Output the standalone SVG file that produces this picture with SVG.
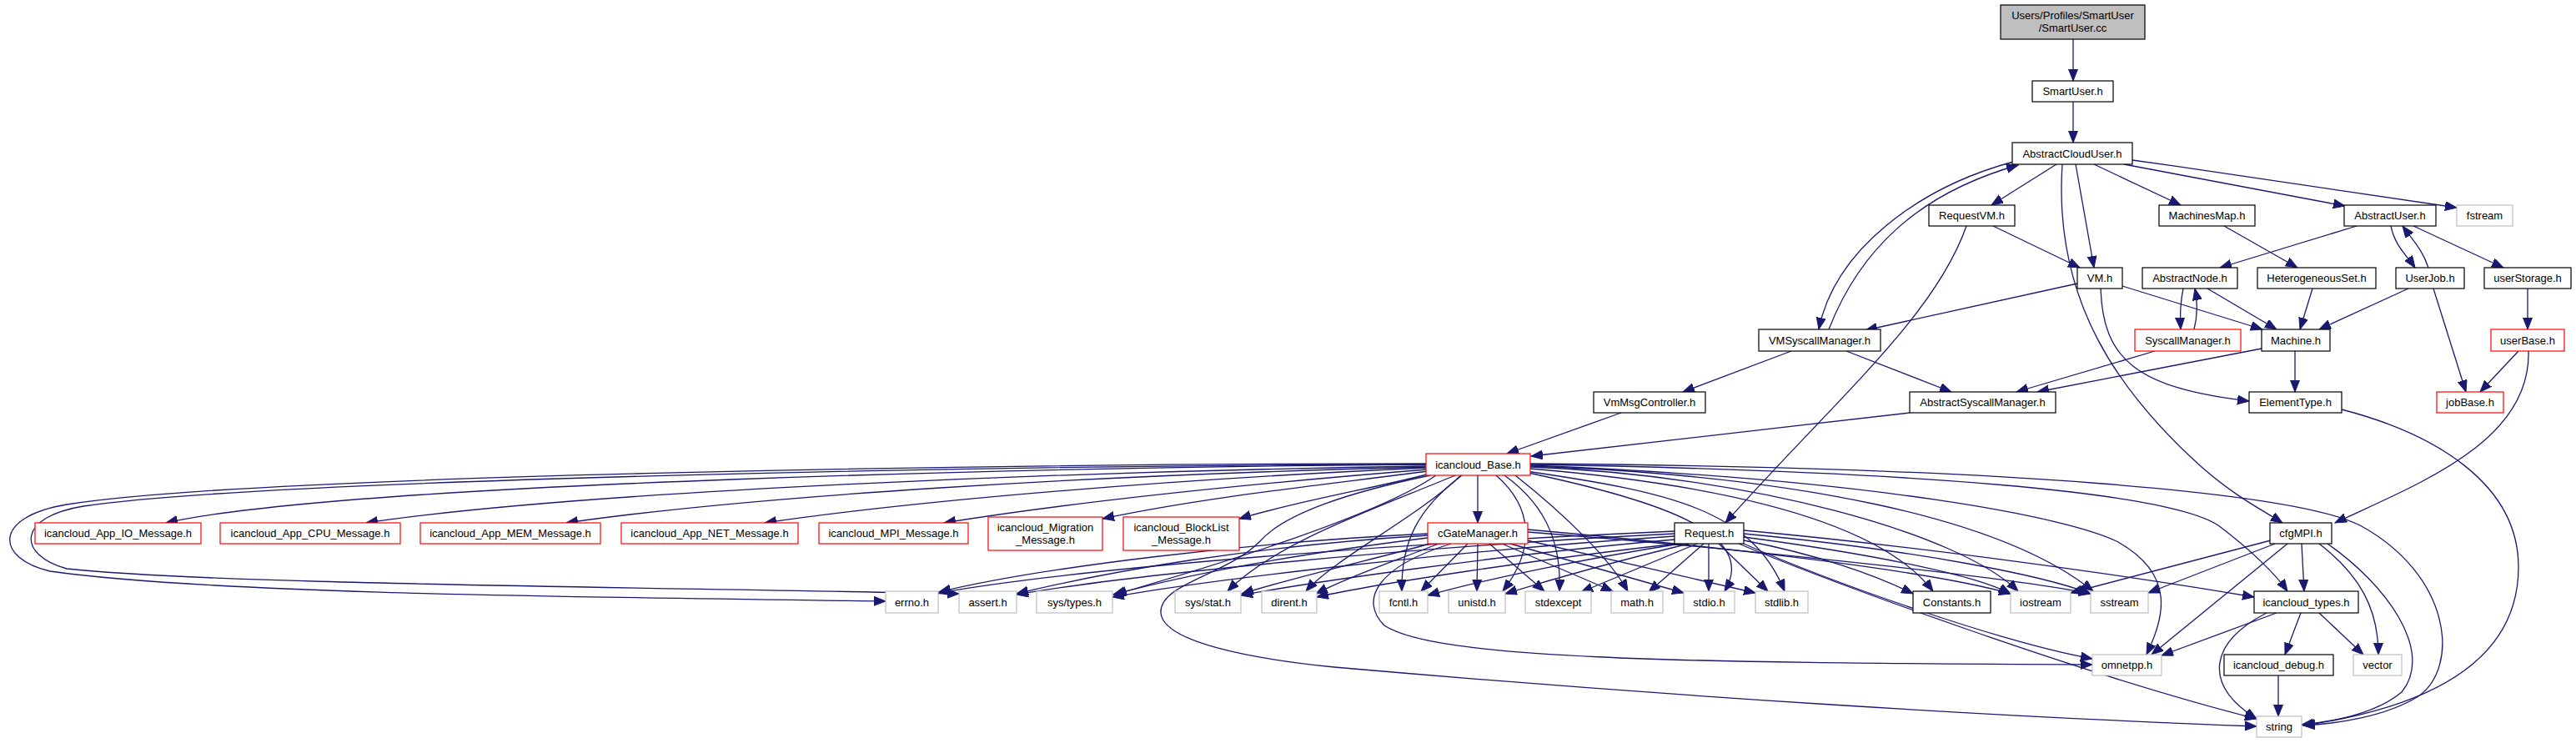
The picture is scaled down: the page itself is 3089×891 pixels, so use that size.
<svg xmlns="http://www.w3.org/2000/svg" width="3089" height="891" viewBox="0 0 3089 891">
<style>
rect{fill:#fff;stroke:#000;stroke-width:1.2}
.r rect{stroke:#ff0000}
.g rect{stroke:#bfbfbf}
.c rect{fill:#bfbfbf}
text{font-family:"Liberation Sans",Arial,sans-serif;font-size:13px;fill:#000;text-anchor:middle}
#edges path{fill:none;stroke:#191970;stroke-width:1.3;marker-end:url(#a)}
</style>
<defs>
<marker id="a" markerUnits="userSpaceOnUse" markerWidth="16" markerHeight="12" refX="14" refY="5.5" orient="auto">
<path d="M0,0 L14,5.5 L0,11 z" fill="#191970" stroke="#191970" stroke-width="1"/>
</marker>
</defs>
<rect x="0" y="0" width="3089" height="891" style="fill:#fff;stroke:none"/>
<g id="edges">
<path d="M2486,47 L2486,97"/>
<path d="M2486,122 L2486,171"/>
<path d="M2466,197 L2388,246"/>
<path d="M2511,197 L2615,246"/>
<path d="M2547,197 L2812,247"/>
<path d="M2557,192 C2700,212 2850,235 2946,249"/>
<path d="M2489,197 L2511,321"/>
<path d="M2473,197 C2462,360 2540,470 2640,560 C2680,595 2710,610 2737,627"/>
<path d="M2414,194 C2300,225 2200,300 2181,395"/>
<path d="M2193,395 C2230,300 2300,232 2420,198"/>
<path d="M2390,271 L2494,321"/>
<path d="M2358,271 C2320,380 2200,480 2069,627"/>
<path d="M2491,340 L2237,396"/>
<path d="M2545,343 L2713,395"/>
<path d="M2519,346 C2522,430 2560,465 2697,481"/>
<path d="M2667,271 L2755,321"/>
<path d="M2826,271 L2662,321"/>
<path d="M2867,271 C2872,295 2885,305 2896,321"/>
<path d="M2912,321 C2905,300 2895,290 2881,271"/>
<path d="M2894,271 L3002,321"/>
<path d="M2618,346 C2614,365 2614,380 2615,395"/>
<path d="M2631,395 C2636,375 2635,360 2632,346"/>
<path d="M2647,346 L2730,395"/>
<path d="M2773,346 L2758,395"/>
<path d="M2888,346 L2781,395"/>
<path d="M2918,346 L2957,470"/>
<path d="M3031,346 L3031,395"/>
<path d="M3020,421 L2974,470"/>
<path d="M3032,421 C3035,530 2900,580 2800,627"/>
<path d="M2584,421 L2418,470"/>
<path d="M2712,418 L2443,470"/>
<path d="M2752,421 L2752,470"/>
<path d="M2808,491 C2920,520 3020,580 3020,680 C3020,800 2900,850 2762,870"/>
<path d="M2214,421 L2340,470"/>
<path d="M2148,421 L2018,470"/>
<path d="M1944,495 L1807,544"/>
<path d="M2290,495 L1836,547"/>
<path d="M1710,557 C1300,560 420,578 199,627"/>
<path d="M1710,559 C1300,565 700,588 439,627"/>
<path d="M1710,560 C1300,570 900,595 679,627"/>
<path d="M1710,561 C1400,575 1100,600 917,627"/>
<path d="M1711,563 C1500,580 1300,600 1132,627"/>
<path d="M1712,565 C1600,580 1450,595 1322,622"/>
<path d="M1715,568 C1650,585 1560,600 1486,622"/>
<path d="M1710,556 C1200,556 300,570 80,605 C-10,620 -5,670 60,685 C250,712 700,716 1062,721"/>
<path d="M1710,557 C1200,558 320,575 100,607 C20,620 20,665 80,682 C250,700 700,703 1150,712"/>
<path d="M1772,570 L1772,627"/>
<path d="M1722,570 C1650,620 1450,680 1337,713"/>
<path d="M1745,570 C1650,610 1530,650 1472,709"/>
<path d="M1752,570 C1700,620 1600,670 1566,709"/>
<path d="M1753,570 C1700,610 1680,650 1681,709"/>
<path d="M1794,570 C1840,610 1840,660 1802,709"/>
<path d="M1804,570 C1860,610 1872,660 1870,709"/>
<path d="M1817,570 C1880,620 1930,670 1952,709"/>
<path d="M1828,566 C1990,600 2110,640 2068,709"/>
<path d="M1830,565 C2000,590 2100,610 2140,709"/>
<path d="M1835,562 C2050,580 2250,620 2318,709"/>
<path d="M1835,560 C2100,570 2350,640 2420,709"/>
<path d="M1835,559 C2150,570 2400,620 2510,709"/>
<path d="M1835,558 C2250,575 2480,620 2540,650 C2610,690 2595,740 2574,785"/>
<path d="M1835,557 C2300,565 2600,590 2660,630 C2700,660 2730,690 2743,709"/>
<path d="M1835,556 C2400,560 2750,590 2830,630 C2940,690 2950,800 2900,835 C2860,860 2800,868 2762,870"/>
<path d="M1715,570 C1620,590 1540,615 1510,650 C1470,690 1390,700 1392,735 C1395,770 1500,790 1600,800 C2000,835 2400,860 2706,871"/>
<path d="M1712,640 C1500,650 1250,680 1126,710"/>
<path d="M1712,642 C1500,655 1330,685 1219,712"/>
<path d="M1712,645 C1550,665 1420,690 1335,713"/>
<path d="M1715,652 C1650,670 1560,690 1489,712"/>
<path d="M1725,652 C1680,670 1620,690 1578,712"/>
<path d="M1760,652 L1704,709"/>
<path d="M1772,652 L1771,709"/>
<path d="M1786,652 L1852,709"/>
<path d="M1801,652 L1934,709"/>
<path d="M1811,652 L2019,711"/>
<path d="M1831,648 L2105,711"/>
<path d="M1832,635 C2000,650 2300,680 2411,712"/>
<path d="M1832,638 C2050,655 2400,690 2507,712"/>
<path d="M1740,652 C1650,680 1630,720 1660,750 C1720,790 2000,795 2509,797"/>
<path d="M2008,637 C1700,650 1300,680 1126,711"/>
<path d="M2008,640 C1700,655 1350,690 1219,713"/>
<path d="M2008,643 C1750,660 1450,695 1334,716"/>
<path d="M2008,647 C1800,665 1560,700 1488,714"/>
<path d="M2010,652 C1850,670 1650,700 1579,716"/>
<path d="M2015,652 C1900,670 1780,695 1712,714"/>
<path d="M2025,652 C1950,670 1860,695 1805,712"/>
<path d="M2035,652 L1896,710"/>
<path d="M2043,652 L1977,710"/>
<path d="M2049,652 L2049,709"/>
<path d="M2061,652 L2120,709"/>
<path d="M2091,648 C2180,665 2250,690 2294,712"/>
<path d="M2091,644 C2250,665 2370,690 2411,712"/>
<path d="M2091,640 C2300,660 2450,690 2507,712"/>
<path d="M2091,636 C2300,655 2550,690 2703,716"/>
<path d="M2091,652 C2200,700 2400,770 2509,790"/>
<path d="M2085,652 C2200,700 2500,810 2706,862"/>
<path d="M2723,648 L2483,711"/>
<path d="M2728,652 L2576,711"/>
<path d="M2743,652 L2580,785"/>
<path d="M2760,652 L2763,709"/>
<path d="M2781,652 C2830,690 2852,730 2852,785"/>
<path d="M2791,652 C2860,700 2920,780 2880,830 C2850,855 2800,865 2760,869"/>
<path d="M2730,735 L2592,786"/>
<path d="M2759,735 L2740,785"/>
<path d="M2781,735 L2834,785"/>
<path d="M2718,735 C2650,770 2640,820 2706,862"/>
<path d="M2732,810 L2732,859"/>
</g>
<g id="n_smartuser_cc" class="c"><rect x="2399" y="6" width="173" height="41"/><text x="2485.5" y="23">Users/Profiles/SmartUser</text><text x="2485.5" y="38">/SmartUser.cc</text></g>
<g id="n_smartuser_h"><rect x="2437" y="97" width="97" height="25"/><text x="2485.5" y="114">SmartUser.h</text></g>
<g id="n_abstractclouduser"><rect x="2413" y="171" width="144" height="26"/><text x="2485" y="189">AbstractCloudUser.h</text></g>
<g id="n_requestvm"><rect x="2313" y="246" width="103" height="25"/><text x="2364.5" y="263">RequestVM.h</text></g>
<g id="n_machinesmap"><rect x="2589" y="246" width="115" height="25"/><text x="2646.5" y="263">MachinesMap.h</text></g>
<g id="n_abstractuser"><rect x="2811" y="246" width="110" height="25"/><text x="2866" y="263">AbstractUser.h</text></g>
<g id="n_fstream" class="g"><rect x="2946" y="246" width="67" height="25"/><text x="2979.5" y="263">fstream</text></g>
<g id="n_vm"><rect x="2491" y="321" width="54" height="25"/><text x="2518" y="338">VM.h</text></g>
<g id="n_abstractnode"><rect x="2569" y="321" width="114" height="25"/><text x="2626" y="338">AbstractNode.h</text></g>
<g id="n_heterogeneousset"><rect x="2707" y="321" width="142" height="25"/><text x="2778" y="338">HeterogeneousSet.h</text></g>
<g id="n_userjob"><rect x="2873" y="321" width="82" height="25"/><text x="2914" y="338">UserJob.h</text></g>
<g id="n_userstorage"><rect x="2979" y="321" width="104" height="25"/><text x="3031" y="338">userStorage.h</text></g>
<g id="n_vmsyscallmanager"><rect x="2109" y="395" width="146" height="26"/><text x="2182" y="413">VMSyscallManager.h</text></g>
<g id="n_syscallmanager" class="r"><rect x="2560" y="395" width="127" height="26"/><text x="2623.5" y="413">SyscallManager.h</text></g>
<g id="n_machine"><rect x="2712" y="395" width="82" height="26"/><text x="2753" y="413">Machine.h</text></g>
<g id="n_userbase" class="r"><rect x="2987" y="395" width="88" height="26"/><text x="3031" y="413">userBase.h</text></g>
<g id="n_vmmsgcontroller"><rect x="1911" y="470" width="134" height="25"/><text x="1978" y="487">VmMsgController.h</text></g>
<g id="n_abstractsyscallmanager"><rect x="2290" y="470" width="175" height="25"/><text x="2377.5" y="487">AbstractSyscallManager.h</text></g>
<g id="n_elementtype"><rect x="2697" y="470" width="111" height="25"/><text x="2752.5" y="487">ElementType.h</text></g>
<g id="n_jobbase" class="r"><rect x="2922" y="470" width="80" height="25"/><text x="2962" y="487">jobBase.h</text></g>
<g id="n_icancloud_base" class="r"><rect x="1710" y="544" width="125" height="26"/><text x="1772.5" y="562">icancloud_Base.h</text></g>
<g id="n_io_msg" class="r"><rect x="42" y="627" width="199" height="25"/><text x="141.5" y="644">icancloud_App_IO_Message.h</text></g>
<g id="n_cpu_msg" class="r"><rect x="264" y="627" width="216" height="25"/><text x="372" y="644">icancloud_App_CPU_Message.h</text></g>
<g id="n_mem_msg" class="r"><rect x="504" y="627" width="216" height="25"/><text x="612" y="644">icancloud_App_MEM_Message.h</text></g>
<g id="n_net_msg" class="r"><rect x="745" y="627" width="212" height="25"/><text x="851" y="644">icancloud_App_NET_Message.h</text></g>
<g id="n_mpi_msg" class="r"><rect x="982" y="627" width="179" height="25"/><text x="1071.5" y="644">icancloud_MPI_Message.h</text></g>
<g id="n_migration_msg" class="r"><rect x="1185" y="620" width="137" height="40"/><text x="1253.5" y="637">icancloud_Migration</text><text x="1253.5" y="652">_Message.h</text></g>
<g id="n_blocklist_msg" class="r"><rect x="1347" y="620" width="139" height="40"/><text x="1416.5" y="637">icancloud_BlockList</text><text x="1416.5" y="652">_Message.h</text></g>
<g id="n_cgatemanager" class="r"><rect x="1712" y="627" width="120" height="25"/><text x="1772" y="644">cGateManager.h</text></g>
<g id="n_request"><rect x="2008" y="627" width="83" height="25"/><text x="2049.5" y="644">Request.h</text></g>
<g id="n_cfgmpi"><rect x="2722" y="627" width="74" height="25"/><text x="2759" y="644">cfgMPI.h</text></g>
<g id="n_errno" class="g"><rect x="1062" y="709" width="63" height="26"/><text x="1093.5" y="727">errno.h</text></g>
<g id="n_assert" class="g"><rect x="1150" y="709" width="69" height="26"/><text x="1184.5" y="727">assert.h</text></g>
<g id="n_systypes" class="g"><rect x="1243" y="709" width="91" height="26"/><text x="1288.5" y="727">sys/types.h</text></g>
<g id="n_sysstat" class="g"><rect x="1409" y="709" width="79" height="26"/><text x="1448.5" y="727">sys/stat.h</text></g>
<g id="n_dirent" class="g"><rect x="1513" y="709" width="66" height="26"/><text x="1546" y="727">dirent.h</text></g>
<g id="n_fcntl" class="g"><rect x="1654" y="709" width="58" height="26"/><text x="1683" y="727">fcntl.h</text></g>
<g id="n_unistd" class="g"><rect x="1737" y="709" width="68" height="26"/><text x="1771" y="727">unistd.h</text></g>
<g id="n_stdexcept" class="g"><rect x="1829" y="709" width="79" height="26"/><text x="1868.5" y="727">stdexcept</text></g>
<g id="n_math" class="g"><rect x="1932" y="709" width="62" height="26"/><text x="1963" y="727">math.h</text></g>
<g id="n_stdio" class="g"><rect x="2019" y="709" width="61" height="26"/><text x="2049.5" y="727">stdio.h</text></g>
<g id="n_stdlib" class="g"><rect x="2105" y="709" width="63" height="26"/><text x="2136.5" y="727">stdlib.h</text></g>
<g id="n_constants"><rect x="2294" y="709" width="93" height="26"/><text x="2340.5" y="727">Constants.h</text></g>
<g id="n_iostream" class="g"><rect x="2411" y="709" width="72" height="26"/><text x="2447" y="727">iostream</text></g>
<g id="n_sstream" class="g"><rect x="2507" y="709" width="69" height="26"/><text x="2541.5" y="727">sstream</text></g>
<g id="n_icancloud_types"><rect x="2703" y="709" width="125" height="26"/><text x="2765.5" y="727">icancloud_types.h</text></g>
<g id="n_omnetpp" class="g"><rect x="2509" y="785" width="83" height="25"/><text x="2550.5" y="802">omnetpp.h</text></g>
<g id="n_icancloud_debug"><rect x="2667" y="785" width="131" height="25"/><text x="2732.5" y="802">icancloud_debug.h</text></g>
<g id="n_vector" class="g"><rect x="2822" y="785" width="58" height="25"/><text x="2851" y="802">vector</text></g>
<g id="n_string" class="g"><rect x="2706" y="859" width="54" height="25"/><text x="2733" y="876">string</text></g>
</svg>
